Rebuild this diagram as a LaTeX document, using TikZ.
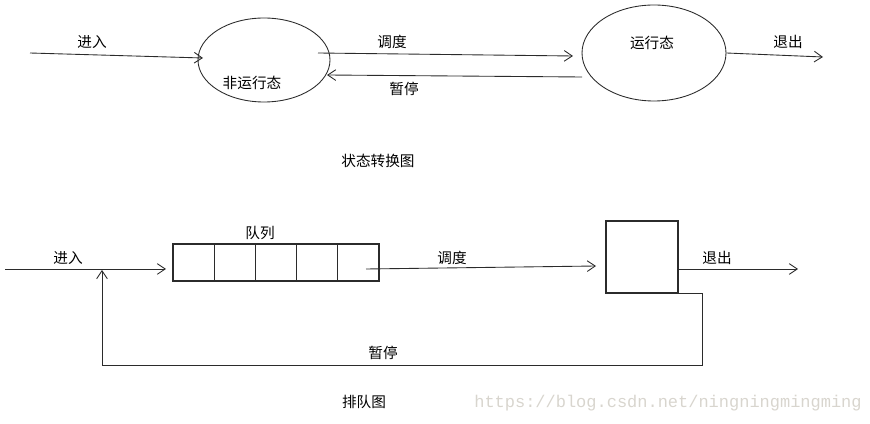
\documentclass[tikz,border=0pt]{standalone}
\usepackage{fontspec}
\newfontfamily\cjk{Noto Sans CJK SC}
\setmonofont{Liberation Mono}
\usetikzlibrary{arrows.meta, positioning, shapes.geometric}
\definecolor{linea}{HTML}{2B2B2B}
\definecolor{marca}{HTML}{D8D5CE}

\tikzset{
  flecha/.style={-{Straight Barb[length=2.4mm, width=3.2mm]}, linea, line width=0.75pt},
  estado/.style={ellipse, draw=linea, line width=0.75pt, inner sep=0pt},
  celda/.style={draw=linea, line width=1.1pt, minimum width=12.36mm, minimum height=11.1mm, inner sep=0pt},
  rotulo/.style={inner sep=1pt, font=\cjk\fontsize{12.5pt}{14pt}\selectfont},
}

\begin{document}
\begin{tikzpicture}[x=0.3mm, y=-0.3mm]

  \useasboundingbox (0,0) rectangle (870,424);

  % ===================== estados =====================
  \node[estado, minimum width=39.6mm, minimum height=25.2mm] (noejec) at (264,60) {};
  \node[rotulo] (tnoejec) at (252,83) {非运行态};
  \node[estado, minimum width=43.2mm, minimum height=28.8mm] (ejec) at (654,53) {};
  \node[rotulo] (tejec) at (652,43) {运行态};

  \coordinate (ent1) at (30,53);    \coordinate (ent1f) at (203,58);
  \coordinate (plan1) at (318,53);  \coordinate (plan1f) at (573,56);
  \coordinate (pausa1) at (582,77); \coordinate (pausa1f) at (327,75);
  \coordinate (sal1) at (823,57);

  \draw[flecha] (ent1) -- (ent1f);
  \draw[flecha] (plan1) -- (plan1f);
  \draw[flecha] (pausa1) -- (pausa1f);
  \draw[flecha] (ejec.east) -- (sal1);

  \node[rotulo] (lent1) at (92,42) {进入};
  \node[rotulo] (lplan1) at (392,42) {调度};
  \node[rotulo] (lpausa1) at (404,89) {暂停};
  \node[rotulo] (lsal1) at (788,42) {退出};
  \node[rotulo] (tit1) at (378,161) {状态转换图};

  % ===================== cola =====================
  \foreach \i in {1,...,5}
    \node[celda] (q\i) at ({152.4+41.2*\i},262.5) {};
  \node[draw=linea, line width=1pt, minimum size=21.6mm, inner sep=0pt] (cpu) at (642,257) {};

  \coordinate (ent2) at (5,269);     \coordinate (ent2f) at (166,269);
  \coordinate (plan2) at (366,269);  \coordinate (plan2f) at (596,266);
  \coordinate (sal2i) at (678,269);  \coordinate (sal2) at (798,269);
  \coordinate (vuelta) at (102,270);

  \draw[flecha] (ent2) -- (ent2f);
  \draw[flecha] (plan2) -- (plan2f);
  \draw[flecha] (sal2i) -- (sal2);
  \draw[flecha] (cpu.south east) -| (702,365) -| (vuelta);

  \node[rotulo] (lcola) at (260,233) {队列};
  \node[rotulo] (lent2) at (68,258) {进入};
  \node[rotulo] (lplan2) at (452,258) {调度};
  \node[rotulo] (lsal2) at (717,258) {退出};
  \node[rotulo] (lpausa2) at (383,353) {暂停};
  \node[rotulo] (tit2) at (364,402) {排队图};

  % marca de agua
  \node[marca, inner sep=0pt, font=\ttfamily\fontsize{14.5pt}{16pt}\selectfont] (web) at (668,403)
    {https://blog.csdn.net/ningningmingming};

\end{tikzpicture}
\end{document}
